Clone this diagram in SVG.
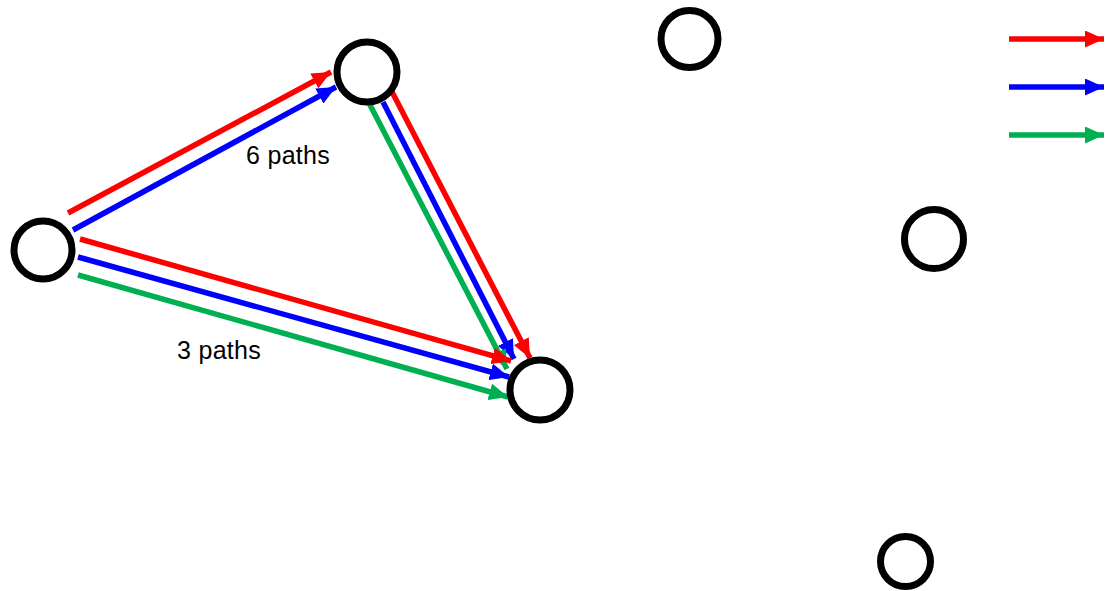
<svg xmlns="http://www.w3.org/2000/svg" width="1105" height="591" viewBox="0 0 1105 591">
<style>
.node{fill:#fff;stroke:#000;stroke-width:7}
.r{stroke:#ff0000;stroke-width:5.5;fill:none}
.b{stroke:#0000ff;stroke-width:5.5;fill:none}
.g{stroke:#00b050;stroke-width:5.5;fill:none}
.lbl{font-family:"Liberation Sans",Arial,sans-serif;font-size:25px;fill:#000;letter-spacing:0.3px}
</style>
<defs>
<marker id="ar" viewBox="0 0 19 17" refX="19" refY="8.5" markerWidth="19" markerHeight="17" markerUnits="userSpaceOnUse" orient="auto"><path d="M0,0 L19,8.5 L0,17 z" fill="#ff0000"/></marker>
<marker id="ab" viewBox="0 0 19 17" refX="19" refY="8.5" markerWidth="19" markerHeight="17" markerUnits="userSpaceOnUse" orient="auto"><path d="M0,0 L19,8.5 L0,17 z" fill="#0000ff"/></marker>
<marker id="ag" viewBox="0 0 19 17" refX="19" refY="8.5" markerWidth="19" markerHeight="17" markerUnits="userSpaceOnUse" orient="auto"><path d="M0,0 L19,8.5 L0,17 z" fill="#00b050"/></marker>
</defs>
<g id="connectors">
<line class="r" x1="68" y1="213" x2="331" y2="72" marker-end="url(#ar)"/>
<line class="b" x1="73" y1="230" x2="336" y2="87" marker-end="url(#ab)"/>
<line class="r" x1="390" y1="88" x2="530" y2="358" marker-end="url(#ar)"/>
<line class="b" x1="383" y1="102" x2="514" y2="359" marker-end="url(#ab)"/>
<line class="g" x1="369" y1="103" x2="507" y2="369" marker-end="url(#ag)"/>
<line class="r" x1="80" y1="239" x2="511" y2="361" marker-end="url(#ar)"/>
<line class="b" x1="78" y1="257" x2="509" y2="377" marker-end="url(#ab)"/>
<line class="g" x1="78" y1="275" x2="508" y2="397" marker-end="url(#ag)"/>
</g>
<g id="node-a"><circle class="node" cx="43" cy="250" r="29"/></g>
<g id="node-b"><circle class="node" cx="367" cy="72" r="30"/></g>
<g id="node-c"><circle class="node" cx="540" cy="390" r="30"/></g>
<g id="node-d"><circle class="node" cx="689.5" cy="39" r="28.5"/></g>
<g id="node-e"><circle class="node" cx="934" cy="239" r="29.5"/></g>
<g id="node-f"><circle class="node" cx="905.5" cy="561.5" r="25"/></g>
<g id="labels">
<text class="lbl" x="246" y="164">6 paths</text>
<text class="lbl" x="177" y="359">3 paths</text>
</g>
<g id="legend">
<line class="r" x1="1009" y1="39" x2="1104" y2="39" marker-end="url(#ar)"/>
<line class="b" x1="1009" y1="87" x2="1104" y2="87" marker-end="url(#ab)"/>
<line class="g" x1="1009" y1="135" x2="1104" y2="135" marker-end="url(#ag)"/>
</g>
</svg>
